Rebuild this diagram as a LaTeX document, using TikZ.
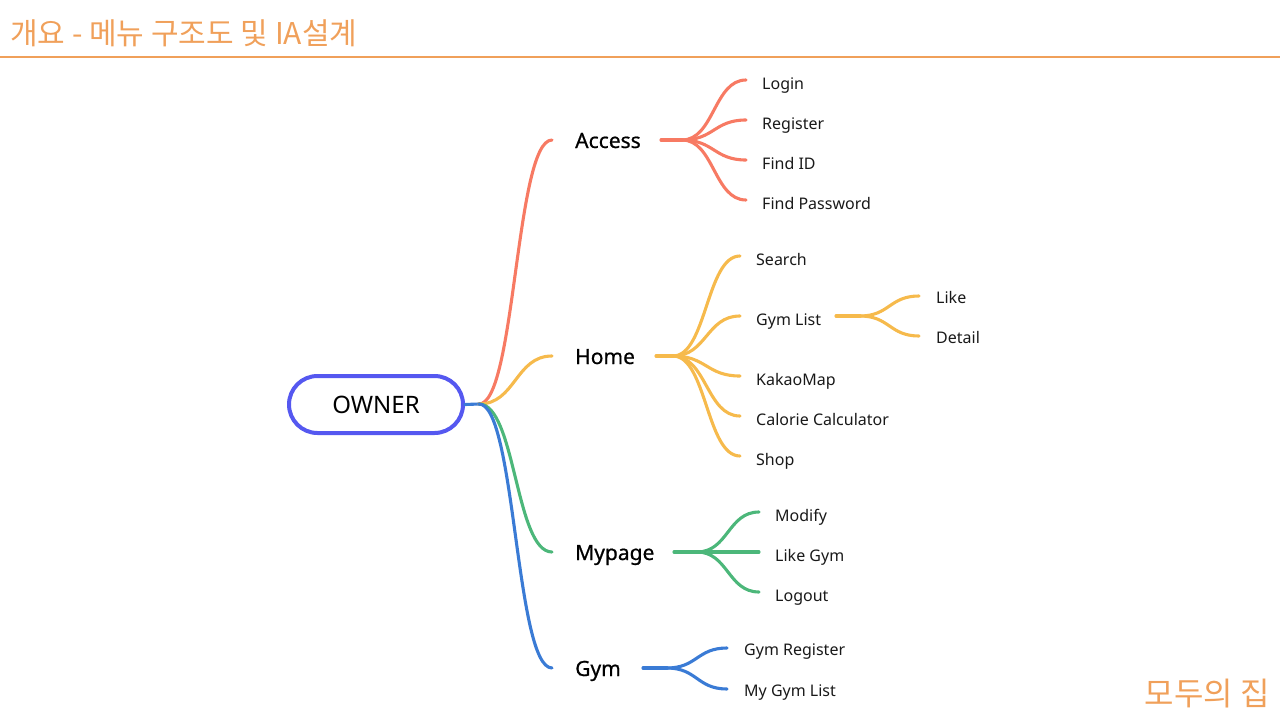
\documentclass[tikz,border=0pt]{standalone}
\usepackage{fontspec}
\usetikzlibrary{calc}
\setmainfont{Noto Sans}
\newfontfamily\krfont{Noto Sans CJK KR}
\newfontfamily\midfont[FakeBold=0.7]{Noto Sans}
\definecolor{ttl}{RGB}{240,160,90}
\definecolor{cacc}{RGB}{247,122,99}
\definecolor{chome}{RGB}{246,186,76}
\definecolor{cmyp}{RGB}{76,183,122}
\definecolor{cgym}{RGB}{58,123,213}
\definecolor{cown}{RGB}{85,88,240}
\tikzset{
  br/.style={line width=3.1pt, line cap=round},
  sc/.style={to path={.. controls ($(\tikztostart)!0.5!(\tikztotarget|-\tikztostart)$) and ($(\tikztotarget)!0.5!(\tikztostart|-\tikztotarget)$) .. (\tikztotarget)}},
  mainlab/.style={anchor=base west, inner sep=0pt, font=\midfont\fontsize{21}{24}\selectfont, text=black},
  leaf/.style={anchor=base west, inner sep=0pt, font=\fontsize{16}{19}\selectfont, text=black!90},
}
\begin{document}
\begin{tikzpicture}[x=1pt,y=-1pt]
\useasboundingbox (0,0) rectangle (1280,720);
% header
\node[anchor=west, inner sep=0pt, text=ttl, font=\krfont\fontsize{30}{33}\selectfont] (title) at (10,33) {개요 - 메뉴 구조도 및 IA설계};
\coordinate (hl) at (0,57);
\coordinate (hr) at (1280,57);
\draw[ttl, line width=2pt] (hl) -- (hr);
\node[anchor=east, inner sep=0pt, text=ttl, font=\krfont\fontsize{32}{35}\selectfont] (foot) at (1270,694) {모두의 집};

% root
\node[draw=cown, line width=4pt, rounded corners=28.5pt, minimum width=174pt, minimum height=57pt, inner sep=0pt, font=\fontsize{24}{28}\selectfont] (root) at (376,404.5) {OWNER};
\coordinate (rj) at (479,404);
\draw[br, cgym] (root.east) -- (rj);

% main ends
\coordinate (aE) at (552,140);
\coordinate (hE) at (552,356);
\coordinate (mE) at (552,552);
\coordinate (gE) at (552,668);
\node[mainlab] (access) at (575,148) {Access};
\node[mainlab] (home) at (575,364) {Home};
\node[mainlab] (mypage) at (575,560) {Mypage};
\node[mainlab] (gym) at (575,676) {Gym};

\draw[br, cacc] (rj) to[sc] (aE);
\draw[br, chome] (rj) to[sc] (hE);
\draw[br, cmyp] (rj) to[sc] (mE);
\draw[br, cgym] (rj) to[sc] (gE);

% Access children
\coordinate (aS) at (661,140);
\coordinate (aJ) at (682,140);
\draw[br, cacc] (aS) -- (aJ);
\foreach \n/\y/\t in {login/80/Login, register/120/Register, findid/160/Find ID, findpw/200/Find Password}{
  \coordinate (\n E) at (746,\y);
  \node[leaf] (\n) at (762,\y+9) {\t};
  \draw[br, cacc] (aJ) to[sc] (\n E);
}

% Home children
\coordinate (hS) at (656,356);
\coordinate (hJ) at (673,356);
\draw[br, chome] (hS) -- (hJ);
\foreach \n/\y/\t in {search/256/Search, gymlist/316/Gym List, kakao/376/KakaoMap, calorie/416/Calorie Calculator, shop/456/Shop}{
  \coordinate (\n E) at (740,\y);
  \node[leaf] (\n) at (756,\y+9) {\t};
  \draw[br, chome] (hJ) to[sc] (\n E);
}
% Gym List children
\coordinate (glS) at (836,316);
\coordinate (glJ) at (860,316);
\draw[br, chome] (glS) -- (glJ);
\foreach \n/\y/\t in {like/296/Like, detail/336/Detail}{
  \coordinate (\n E) at (919,\y);
  \node[leaf] (\n) at (936,\y+7) {\t};
  \draw[br, chome] (glJ) to[sc] (\n E);
}

% Mypage children
\coordinate (mS) at (674,552);
\coordinate (mJ) at (697,552);
\draw[br, cmyp] (mS) -- (mJ);
\foreach \n/\y/\t in {modify/512/Modify, likegym/552/Like Gym, logout/592/Logout}{
  \coordinate (\n E) at (759,\y);
  \node[leaf] (\n) at (775,\y+9) {\t};
  \draw[br, cmyp] (mJ) to[sc] (\n E);
}

% Gym children
\coordinate (gS) at (643,668);
\coordinate (gJ) at (667,668);
\draw[br, cgym] (gS) -- (gJ);
\foreach \n/\y/\t in {gymreg/648/Gym Register, mygym/689/My Gym List}{
  \coordinate (\n E) at (727,\y);
  \node[leaf] (\n) at (744,\y+7) {\t};
  \draw[br, cgym] (gJ) to[sc] (\n E);
}
\end{tikzpicture}
\end{document}
